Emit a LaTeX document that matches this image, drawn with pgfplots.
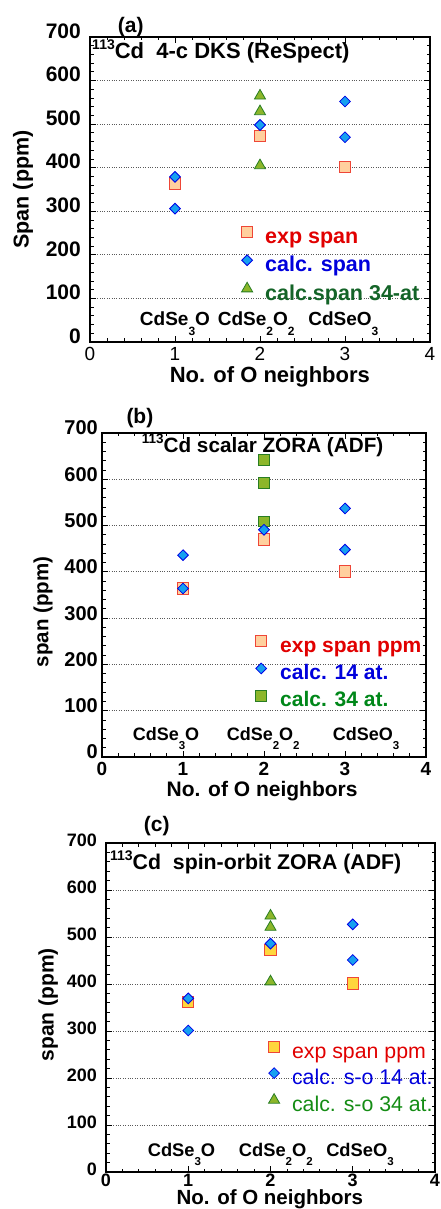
\documentclass[border=0pt]{standalone}
\usepackage{pgfplots}
\pgfplotsset{compat=1.18}
\usepackage{fontspec}
\setmainfont{Liberation Sans}
\definecolor{expfill}{RGB}{255,208,158}
\definecolor{expedge}{RGB}{238,70,55}
\definecolor{expfillc}{RGB}{255,214,60}
\definecolor{dfill}{RGB}{22,160,240}
\definecolor{dedge}{RGB}{0,0,230}
\definecolor{gfill}{RGB}{140,182,42}
\definecolor{gedge}{RGB}{40,125,35}
\definecolor{lred}{RGB}{225,0,0}
\definecolor{lblue}{RGB}{0,0,220}
\definecolor{lgreenA}{RGB}{20,100,40}
\definecolor{lgreenB}{RGB}{0,135,25}
\definecolor{lgreenC}{RGB}{20,140,20}
\newcommand{\fs}[1]{\fontsize{#1}{#1}\selectfont}
\newcommand{\sub}[3]{\raisebox{-#1}{\fs{#2}#3}}
\pgfplotsset{
 panel/.style={
  scale only axis, anchor=south west, clip=false,
  xmin=0, xmax=4, ymin=0, ymax=700,
  xtick={0,1,2,3,4}, ytick={0,100,...,700},
  minor x tick num=4, minor y tick num=4,
  tick align=inside, xticklabel pos=lower, yticklabel pos=left,
  major tick length=6pt, minor tick length=3.5pt,
  tick style={black, line width=0.9pt},
  axis line style={line width=2.4pt},
  ymajorgrids, grid style={dotted, black!65, line width=0.8pt},
  /pgf/number format/assume math mode=true,
  legend cell align=left,
  legend image code/.code={\draw[##1] plot coordinates {(0pt,6pt)}; \path[draw=none,fill=none] (-8pt,0pt) rectangle (8pt,12pt);},
 },
 expm/.style={only marks, mark=square*, mark size=5.6pt, mark options={draw=expedge, fill=expfill, line width=0.9pt}},
 expmc/.style={only marks, mark=square*, mark size=5.6pt, mark options={draw=expedge, fill=expfillc, line width=0.9pt}},
 dm/.style={only marks, mark=square*, mark size=3.8pt, mark options={rotate=45, draw=dedge, fill=dfill, line width=0.8pt}},
 tm/.style={only marks, mark=triangle*, mark size=6.4pt, mark options={draw=gedge, fill=gfill, line width=0.8pt}},
 gsm/.style={only marks, mark=square*, mark size=5.4pt, mark options={draw=gedge, fill=gfill, line width=0.9pt}},
}
\begin{document}
\begin{tikzpicture}
\useasboundingbox (0,0) rectangle (440pt,1209pt);
% ---------------- panel (a)
\begin{axis}[panel, at={(90pt,867pt)}, width=340pt, height=305pt,
  xticklabel style={font=\fs{19}, anchor=north, inner sep=0pt, yshift=-5pt},
  yticklabel style={font=\fs{21}\bfseries, anchor=east, inner sep=0pt, xshift=-9pt, yshift=6pt},
  xlabel={No. of O neighbors}, ylabel={Span (ppm)},
  xlabel style={at={(axis description cs:0.529,-0.134)}, anchor=base, font=\fs{22}\bfseries},
  ylabel style={at={(axis description cs:-0.197,0.5)}, anchor=center, font=\fs{21.5}\bfseries},
  legend style={at={(rel axis cs:0.438,0.380)}, anchor=north west, draw=none, fill=none, inner sep=0pt,
    row sep=6pt, column sep=10pt, font=\fs{21.5}\bfseries,
    nodes={inner sep=0pt, text height=15.5pt, text depth=4.5pt}},
]
\addplot[expm] coordinates {(1,364) (2,472) (3,402)};
\addlegendentry{\textcolor{lred}{exp span}}
\addplot[dm] coordinates {(1,379) (1,306) (2,498) (3,552) (3,470)};
\addlegendentry{\textcolor{lblue}{calc. span}}
\addplot[tm] coordinates {(2,565) (2,529) (2,405)};
\addlegendentry{\textcolor{lgreenA}{calc.span 34-at}}
\addplot[dm, forget plot] coordinates {(2,498)};
\node[anchor=base west, inner sep=0pt, font=\fs{22}\bfseries] at (axis description cs:0.006,0.928) {\raisebox{9pt}{\fs{14}113}Cd\ \ 4-c DKS (ReSpect)};
\node[anchor=center, inner sep=0pt, font=\fs{21}\bfseries] at (axis description cs:0.12,1.033) {(a)};
\node[anchor=base, inner sep=0pt, font=\fs{19}\bfseries] at (axis cs:1.0,36.7) {CdSe\sub{10pt}{12}{3}O};
\node[anchor=base, inner sep=0pt, font=\fs{19}\bfseries] at (axis cs:1.955,36.7) {CdSe\sub{10pt}{12}{2}O\sub{10pt}{12}{2}};
\node[anchor=base, inner sep=0pt, font=\fs{19}\bfseries] at (axis cs:2.98,36.7) {CdSeO\sub{10pt}{12}{3}};
\end{axis}
% ---------------- panel (b)
\begin{axis}[panel, at={(102pt,452pt)}, width=324pt, height=324pt,
  xticklabel style={font=\fs{19}\bfseries, anchor=north, inner sep=0pt, yshift=-5pt},
  yticklabel style={font=\fs{20}\bfseries, anchor=east, inner sep=0pt, xshift=-4pt, yshift=5pt},
  xlabel={No. of O neighbors}, ylabel={span (ppm)},
  xlabel style={at={(axis description cs:0.494,-0.1225)}, anchor=base, font=\fs{21}\bfseries},
  ylabel style={at={(axis description cs:-0.182,0.448)}, anchor=center, font=\fs{20.5}\bfseries},
  legend style={at={(rel axis cs:0.466,0.3765)}, anchor=north west, draw=none, fill=none, inner sep=0pt,
    row sep=5.5pt, column sep=11pt, font=\fs{21}\bfseries,
    nodes={inner sep=0pt, text height=15pt, text depth=4.5pt}},
]
\addplot[expm] coordinates {(1,364) (2,470) (3,401)};
\addlegendentry{\textcolor{lred}{exp span ppm}}
\addplot[dm] coordinates {(1,436) (1,364) (2,491) (3,537) (3,448)};
\addlegendentry{\textcolor{lblue}{calc. 14 at.}}
\addplot[gsm] coordinates {(2,641) (2,592) (2,509)};
\addlegendentry{\textcolor{lgreenB}{calc. 34 at.}}
\addplot[dm, forget plot] coordinates {(2,491)};
\node[anchor=base west, inner sep=0pt, font=\fs{20.7}\bfseries] at (axis description cs:0.1225,0.940) {\raisebox{9pt}{\fs{13.5}113}Cd scalar ZORA (ADF)};
\node[anchor=center, inner sep=0pt, font=\fs{21}\bfseries] at (axis description cs:0.117,1.045) {(b)};
\node[anchor=base, inner sep=0pt, font=\fs{18}\bfseries] at (axis cs:0.79,35.2) {CdSe\sub{9pt}{11.5}{3}O};
\node[anchor=base, inner sep=0pt, font=\fs{18}\bfseries] at (axis cs:1.99,35.2) {CdSe\sub{9pt}{11.5}{2}O\sub{9pt}{11.5}{2}};
\node[anchor=base, inner sep=0pt, font=\fs{18}\bfseries] at (axis cs:3.26,35.2) {CdSeO\sub{9pt}{11.5}{3}};
\end{axis}
% ---------------- panel (c)
\begin{axis}[panel, at={(106pt,37pt)}, width=329pt, height=329pt,
  xticklabel style={font=\fs{18}\bfseries, anchor=north, inner sep=0pt, yshift=-2pt},
  yticklabel style={font=\fs{18}\bfseries, anchor=east, inner sep=0pt, xshift=-9pt, yshift=3pt},
  xlabel={No. of O neighbors}, ylabel={span (ppm)},
  xlabel style={at={(axis description cs:0.498,-0.099)}, anchor=base, font=\fs{20.5}\bfseries},
  ylabel style={at={(axis description cs:-0.176,0.508)}, anchor=center, font=\fs{21}\bfseries},
  legend style={at={(rel axis cs:0.486,0.400)}, anchor=north west, draw=none, fill=none, inner sep=0pt,
    row sep=4.5pt, column sep=10pt, font=\fs{21.3},
    nodes={inner sep=0pt, text height=15.5pt, text depth=4.5pt}},
]
\addplot[expmc] coordinates {(1,362) (2,472) (3,401)};
\addlegendentry{\textcolor{lred}{exp span ppm}}
\addplot[dm] coordinates {(1,369.5) (1,301) (2,486) (3,527) (3,451)};
\addlegendentry{\textcolor{lblue}{calc. s-o 14 at.}}
\addplot[tm] coordinates {(2,545) (2,521) (2,405)};
\addlegendentry{\textcolor{lgreenC}{calc. s-o 34 at.}}
\node[anchor=base west, inner sep=0pt, font=\fs{21.3}\bfseries] at (axis description cs:0.012,0.918) {\raisebox{9pt}{\fs{14}113}Cd\ \ spin-orbit ZORA (ADF)};
\node[anchor=center, inner sep=0pt, font=\fs{21}\bfseries] at (axis description cs:0.154,1.052) {(c)};
\node[anchor=base, inner sep=0pt, font=\fs{18.3}\bfseries] at (axis cs:0.918,34) {CdSe\sub{9.5pt}{11.5}{3}O};
\node[anchor=base, inner sep=0pt, font=\fs{18.3}\bfseries] at (axis cs:2.065,34) {CdSe\sub{9.5pt}{11.5}{2}O\sub{9.5pt}{11.5}{2}};
\node[anchor=base, inner sep=0pt, font=\fs{18.3}\bfseries] at (axis cs:3.088,34) {CdSeO\sub{9.5pt}{11.5}{3}};
\end{axis}
\end{tikzpicture}
\end{document}
